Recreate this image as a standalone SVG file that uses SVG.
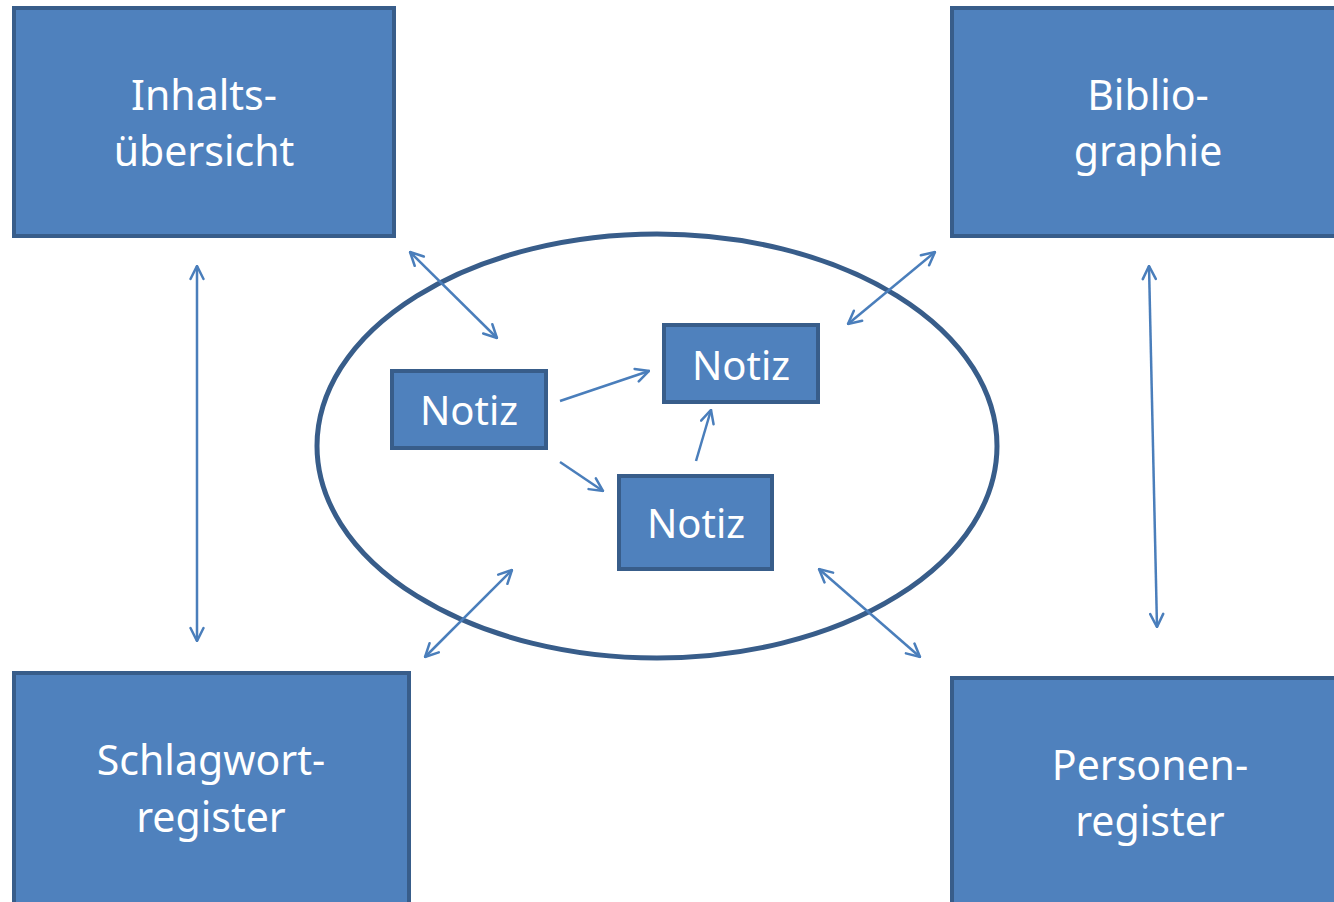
<svg xmlns="http://www.w3.org/2000/svg" width="1334" height="902" viewBox="0 0 1334 902">
<style>
.box{fill:#4F81BD;stroke:#385D8A;stroke-width:4}
.t{font-family:"Noto Sans",sans-serif;font-size:41px;fill:#fff;text-anchor:middle}
.n{font-size:40px}
.c{stroke:#4A7EBB;stroke-width:2.5;fill:none}
</style>
<defs>
<marker id="ah" viewBox="0 0 16 16" refX="15" refY="8" markerWidth="16" markerHeight="16" markerUnits="userSpaceOnUse" orient="auto-start-reverse">
<path d="M2,1.5 L15,8 L2,14.5" fill="none" stroke="#4A7EBB" stroke-width="2.5" stroke-linecap="round"/>
</marker>
</defs>
<g id="inhalt"><rect class="box" x="14" y="8" width="380" height="228"/><text class="t" x="204" y="110">Inhalts-</text><text class="t" x="204" y="166">übersicht</text></g>
<g id="biblio"><rect class="box" x="952" y="8" width="390" height="228"/><text class="t" x="1148" y="110">Biblio-</text><text class="t" x="1148" y="166">graphie</text></g>
<g id="schlagwort"><rect class="box" x="14" y="673" width="395" height="240"/><text class="t" x="211" y="775">Schlagwort-</text><text class="t" x="211" y="832">register</text></g>
<g id="personen"><rect class="box" x="952" y="678" width="390" height="240"/><text class="t" x="1150" y="780">Personen-</text><text class="t" x="1150" y="836">register</text></g>
<g id="zettelkasten"><ellipse cx="657" cy="446" rx="340" ry="212" fill="none" stroke="#385D8A" stroke-width="5"/></g>
<g id="notiz1"><rect class="box" x="392" y="371" width="154" height="77"/><text class="t n" x="469" y="425">Notiz</text></g>
<g id="notiz2"><rect class="box" x="664" y="325" width="154" height="77"/><text class="t n" x="741" y="380">Notiz</text></g>
<g id="notiz3"><rect class="box" x="619" y="476" width="153" height="93"/><text class="t n" x="696" y="538">Notiz</text></g>
<g id="connectors">
<line class="c" x1="197" y1="266" x2="197" y2="641" marker-start="url(#ah)" marker-end="url(#ah)"/>
<line class="c" x1="1149" y1="266" x2="1157" y2="627" marker-start="url(#ah)" marker-end="url(#ah)"/>
<line class="c" x1="410" y1="252" x2="497" y2="338" marker-start="url(#ah)" marker-end="url(#ah)"/>
<line class="c" x1="935" y1="252" x2="848" y2="324" marker-start="url(#ah)" marker-end="url(#ah)"/>
<line class="c" x1="512" y1="570" x2="425" y2="657" marker-start="url(#ah)" marker-end="url(#ah)"/>
<line class="c" x1="819" y1="569" x2="920" y2="657" marker-start="url(#ah)" marker-end="url(#ah)"/>
<line class="c" x1="560" y1="401" x2="649" y2="371" marker-end="url(#ah)"/>
<line class="c" x1="560" y1="462" x2="603" y2="491" marker-end="url(#ah)"/>
<line class="c" x1="696" y1="461" x2="711" y2="410" marker-end="url(#ah)"/>
</g>
</svg>
